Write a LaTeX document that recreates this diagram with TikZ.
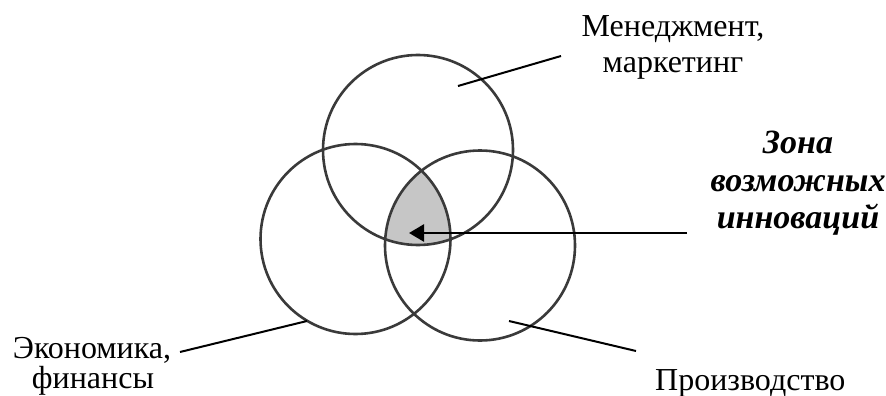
\documentclass[tikz,border=0pt]{standalone}
\usepackage{fontspec}
\setmainfont{Liberation Serif}
\usetikzlibrary{arrows.meta}
\definecolor{ring}{HTML}{3A3A3A}
\definecolor{zone}{HTML}{C6C6C6}
\tikzset{
  ringc/.style={draw=ring, line width=2.6pt},
  lbl/.style={inner sep=0pt, font=\fontsize{32}{36}\selectfont},
  zlbl/.style={inner sep=0pt, font=\fontsize{34}{38}\selectfont\bfseries\itshape},
  leader/.style={draw=black, line width=2pt},
  pointer/.style={draw=black, line width=2.6pt, -{Triangle[length=15pt,width=17pt]}}
}
\begin{document}
\begin{tikzpicture}[x=1pt,y=-1pt]
\useasboundingbox (0,0) rectangle (886,396);
% circles
\coordinate (ctop) at (418,150);
\coordinate (cleft) at (355.5,239);
\coordinate (cright) at (480,245.5);
\begin{scope}
  \clip (ctop) circle[radius=95];
  \clip (cleft) circle[radius=95];
  \fill[zone] (cright) circle[radius=95];
\end{scope}
\draw[ringc] (ctop) circle[radius=95];
\draw[ringc] (cleft) circle[radius=95];
\draw[ringc] (cright) circle[radius=95];
% labels
\node[lbl, anchor=base] (m1) at (673,37) {Менеджмент,};
\node[lbl, anchor=base] (m2) at (673,73) {маркетинг};
\node[zlbl, anchor=base] (z1) at (798,153) {Зона};
\node[zlbl, anchor=base] (z2) at (798,191) {возможных};
\node[zlbl, anchor=base] (z3) at (798,228) {инноваций};
\node[lbl, anchor=base] (e1) at (92,358) {Экономика,};
\node[lbl, anchor=base] (e2) at (93,388) {финансы};
\node[lbl, anchor=base west] (p1) at (655,390) {Производство};
% leader lines
\coordinate (tA) at (458,86);
\coordinate (tB) at (561,56);
\coordinate (lA) at (180,352);
\coordinate (lB) at (307,321);
\coordinate (rA) at (509,321);
\coordinate (rB) at (636,351);
\coordinate (aS) at (687,233);
\coordinate (aE) at (409,233);
\draw[leader] (tA) -- (tB);
\draw[leader] (lA) -- (lB);
\draw[leader] (rA) -- (rB);
\draw[pointer] (aS) -- (aE);
\end{tikzpicture}
\end{document}
